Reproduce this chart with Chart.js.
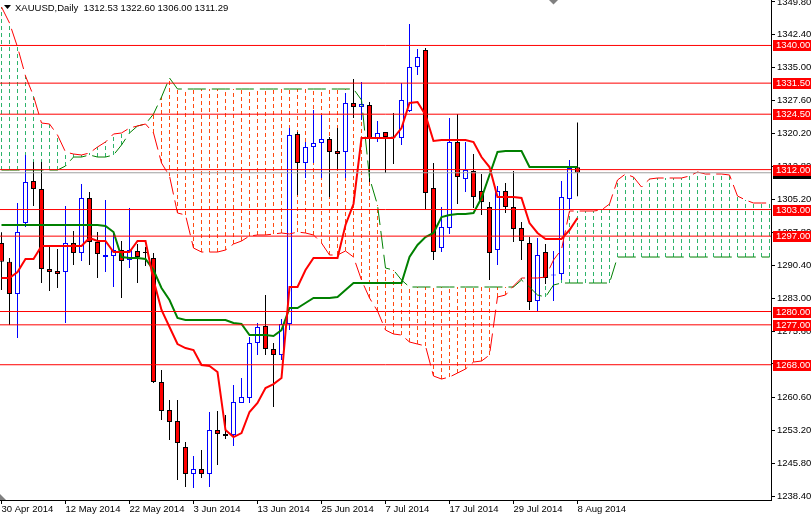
<!DOCTYPE html>
<html>
<head>
<meta charset="utf-8">
<script src="https://cdn.jsdelivr.net/npm/chart.js@4/dist/chart.umd.min.js"></script>
<style>
  html, body { margin: 0; padding: 0; background: #fff; }
  canvas { display: block; }
</style>
</head>
<body>
<canvas id="chart" width="811" height="517"></canvas>
<script>
// XAUUSD daily, 30 Apr - 8 Aug 2014, Ichimoku
const tickDates = ['30 Apr 2014', '12 May 2014', '22 May 2014', '3 Jun 2014', '13 Jun 2014',
  '25 Jun 2014', '7 Jul 2014', '17 Jul 2014', '29 Jul 2014', '8 Aug 2014'];
const tickBars = [0, 8, 16, 24, 32, 40, 48, 56, 64, 72];

const open = [1295.45, 1291.20, 1283.95, 1299.96, 1309.43, 1307.63, 1289.59, 1289.14, 1288.91, 1295.45,
  1293.20, 1305.60, 1295.68, 1292.29, 1292.52, 1293.87, 1291.62, 1293.65, 1293.42, 1292.07,
  1264.11, 1257.79, 1255.31, 1249.45, 1243.36, 1244.49, 1243.36, 1253.28, 1252.38, 1252.15,
  1259.37, 1260.50, 1272.90, 1276.73, 1271.55, 1270.19, 1277.18, 1320.03, 1313.49, 1317.10,
  1318.00, 1318.90, 1316.20, 1315.97, 1327.02, 1326.12, 1326.57, 1319.13, 1320.48, 1319.36,
  1319.13, 1325.22, 1335.14, 1338.97, 1307.85, 1294.32, 1298.83, 1318.23, 1309.88, 1311.69,
  1307.18, 1303.57, 1293.87, 1307.18, 1303.57, 1298.83, 1295.45, 1282.37, 1293.42, 1288.12,
  1288.46, 1305.38, 1312.53];
const high = [1297.90, 1292.07, 1304.47, 1315.30, 1313.72, 1313.72, 1294.78, 1294.10, 1303.80, 1298.16,
  1308.76, 1306.95, 1297.93, 1305.15, 1297.93, 1295.90, 1303.34, 1295.23, 1294.55, 1293.20,
  1266.81, 1260.05, 1260.05, 1250.58, 1247.42, 1248.77, 1257.34, 1257.57, 1256.66, 1263.43,
  1265.01, 1274.25, 1277.41, 1283.73, 1272.90, 1278.31, 1321.38, 1320.48, 1318.23, 1325.44,
  1324.32, 1319.36, 1321.38, 1329.28, 1332.44, 1331.76, 1327.25, 1322.96, 1320.48, 1324.77,
  1331.53, 1344.84, 1339.20, 1339.43, 1313.49, 1303.57, 1323.64, 1324.54, 1318.23, 1315.52,
  1311.01, 1304.70, 1308.31, 1308.98, 1311.69, 1300.19, 1296.80, 1296.58, 1295.23, 1293.65,
  1309.43, 1314.17, 1322.60];
const low = [1284.85, 1276.96, 1274.03, 1299.06, 1303.80, 1286.43, 1284.63, 1285.30, 1277.41, 1290.49,
  1291.39, 1290.49, 1287.56, 1288.91, 1285.53, 1283.05, 1289.81, 1286.43, 1290.27, 1263.88,
  1255.54, 1251.03, 1242.01, 1240.43, 1240.20, 1242.46, 1240.43, 1245.39, 1251.25, 1249.67,
  1259.37, 1259.37, 1270.19, 1270.19, 1258.47, 1269.07, 1275.83, 1306.27, 1310.11, 1313.49,
  1310.11, 1305.83, 1311.91, 1310.11, 1323.64, 1323.19, 1309.21, 1318.23, 1311.24, 1313.27,
  1317.55, 1324.99, 1333.34, 1302.89, 1291.62, 1293.42, 1297.48, 1304.25, 1306.95, 1303.34,
  1301.77, 1287.11, 1290.49, 1302.22, 1295.68, 1291.62, 1280.34, 1279.89, 1286.20, 1282.37,
  1287.11, 1302.89, 1306.00];
const close = [1291.20, 1283.95, 1297.93, 1309.21, 1307.63, 1289.59, 1288.91, 1288.46, 1295.45, 1293.20,
  1305.60, 1295.68, 1292.97, 1292.75, 1293.87, 1291.39, 1293.87, 1292.29, 1293.20, 1264.11,
  1257.57, 1255.09, 1250.35, 1243.36, 1244.49, 1243.36, 1253.28, 1252.38, 1251.93, 1259.60,
  1260.72, 1272.90, 1276.51, 1271.55, 1270.19, 1277.18, 1319.81, 1313.49, 1317.10, 1318.00,
  1318.90, 1315.97, 1315.52, 1327.02, 1326.12, 1326.80, 1319.13, 1320.26, 1319.36, 1319.24,
  1327.70, 1335.14, 1337.40, 1306.73, 1293.42, 1299.06, 1318.23, 1310.33, 1311.91, 1305.83,
  1304.70, 1293.20, 1307.18, 1303.57, 1298.61, 1295.90, 1282.15, 1292.75, 1287.56, 1288.35,
  1305.83, 1312.36, 1311.29];

const tenkan = [1287.56, 1287.56, 1288.91, 1291.84, 1291.84, 1294.77, 1294.77, 1294.77, 1294.77, 1294.77,
  1294.77, 1296.58, 1295.90, 1295.90, 1293.42, 1293.42, 1293.42, 1295.90, 1295.90, 1287.11,
  1280.34, 1276.51, 1272.67, 1271.77, 1271.32, 1267.94, 1267.71, 1266.36, 1253.28, 1251.70,
  1252.60, 1257.34, 1259.37, 1262.75, 1263.65, 1265.01, 1285.53, 1285.53, 1289.36, 1292.07,
  1292.07, 1292.07, 1292.07, 1299.51, 1304.25, 1319.13, 1319.13, 1319.13, 1319.13, 1319.13,
  1321.38, 1327.02, 1327.25, 1324.32, 1318.45, 1318.68, 1318.68, 1318.68, 1318.68, 1318.23,
  1314.84, 1312.59, 1305.82, 1305.82, 1305.82, 1305.60, 1299.96, 1297.71, 1296.35, 1296.35,
  1296.35, 1298.38, 1301.09];
const kijun = [1299.51, 1299.51, 1299.51, 1299.51, 1299.51, 1299.51, 1299.51, 1299.51, 1299.51, 1299.51,
  1299.51, 1299.51, 1299.51, 1299.29, 1297.93, 1292.29, 1292.07, 1292.07, 1291.84, 1289.36,
  1285.30, 1282.60, 1278.54, 1278.09, 1278.09, 1278.09, 1278.09, 1278.09, 1278.09, 1277.41,
  1277.18, 1274.70, 1274.70, 1274.70, 1274.48, 1275.83, 1280.79, 1280.79, 1281.92, 1283.05,
  1283.05, 1283.05, 1283.27, 1284.85, 1286.43, 1286.43, 1286.43, 1286.43, 1286.43, 1286.43,
  1286.43, 1292.29, 1295.00, 1296.80, 1297.71, 1301.31, 1301.77, 1301.99, 1301.99, 1302.22,
  1305.60, 1310.79, 1315.97, 1316.20, 1316.20, 1316.20, 1312.59, 1312.59, 1312.59, 1312.59,
  1312.59, 1312.59, 1312.59];
// cloud spans, shifted 26 bars ahead (97 points)
const spanA = [1348.67, 1345.06, 1339.65, 1333.11, 1328.60, 1322.51, 1322.29, 1319.81, 1315.97, 1315.52,
  1315.30, 1315.75, 1317.10, 1318.23, 1320.03, 1320.26, 1321.38, 1321.84, 1322.29, 1320.26,
  1313.49, 1310.56, 1302.22, 1301.77, 1294.32, 1293.42, 1293.42, 1293.42, 1293.87, 1295.23,
  1295.90, 1297.03, 1297.26, 1297.26, 1297.48, 1297.71, 1297.48, 1297.93, 1297.71, 1297.26,
  1295.45, 1292.75, 1292.75, 1293.65, 1292.29, 1287.11, 1283.05, 1280.12, 1275.83, 1274.93,
  1274.70, 1273.13, 1272.67, 1272.22, 1265.46, 1264.78, 1265.23, 1266.13, 1267.04, 1268.61,
  1268.84, 1270.19, 1283.27, 1283.73, 1285.75, 1287.56, 1287.56, 1287.56, 1287.78, 1291.62,
  1294.00, 1302.67, 1302.67, 1302.67, 1302.67, 1302.89, 1304.25, 1309.66, 1311.01, 1310.33,
  1308.08, 1309.88, 1310.11, 1310.11, 1310.11, 1310.11, 1310.56, 1311.46, 1311.01, 1311.01,
  1311.01, 1310.79, 1306.05, 1305.15, 1304.47, 1304.47, 1304.47];
const spanB = [1311.91, 1311.91, 1311.91, 1311.91, 1311.91, 1311.91, 1311.91, 1311.91, 1312.81, 1314.84,
  1314.84, 1315.30, 1314.84, 1314.84, 1315.30, 1317.55, 1320.26, 1321.84, 1322.29, 1324.54,
  1328.38, 1332.66, 1330.18, 1330.18, 1330.18, 1330.18, 1330.18, 1330.18, 1330.18, 1330.18,
  1330.18, 1330.18, 1330.18, 1330.18, 1330.18, 1330.18, 1330.18, 1330.18, 1330.18, 1330.18,
  1330.18, 1330.18, 1330.18, 1330.18, 1330.18, 1327.70, 1310.11, 1304.02, 1289.81, 1289.36,
  1287.11, 1285.53, 1285.53, 1285.53, 1285.53, 1285.53, 1285.53, 1285.53, 1285.53, 1285.53,
  1285.53, 1285.53, 1285.53, 1285.53, 1285.53, 1287.11, 1285.53, 1283.73, 1283.27, 1285.98,
  1286.43, 1286.43, 1286.43, 1286.43, 1286.43, 1286.43, 1286.43, 1292.29, 1292.29, 1292.29,
  1292.29, 1292.29, 1292.29, 1292.29, 1292.29, 1292.29, 1292.29, 1292.29, 1292.29, 1292.29,
  1292.29, 1292.29, 1292.29, 1292.29, 1292.29, 1292.29, 1292.29];

const levels = [1340, 1331.5, 1324.5, 1312, 1303, 1297, 1280, 1277, 1268];
const yTicks = [1349.8, 1342.4, 1335.0, 1327.6, 1320.2, 1312.8, 1305.2, 1297.8, 1290.4,
  1283.0, 1275.6, 1268.2, 1260.6, 1253.2, 1245.8, 1238.4];

const FONT = '"Liberation Sans", Arial, sans-serif';
const FSIZE = 9.5;

const bars = open.map((_, i) => i);
const bull = bars.filter(i => close[i] >= open[i]);
const bear = bars.filter(i => close[i] < open[i]);
const pts = arr => arr.map((v, i) => ({ x: i, y: v }));
const hline = v => [{ x: -1, y: v }, { x: 200, y: v }];

// vertical dashed strokes between the spans, one per bar, broken by nulls
function hatch(aboveB) {
  const d = [];
  spanA.forEach((a, i) => {
    const b = spanB[i];
    if (aboveB ? a > b : a < b) {
      d.push({ x: i, y: Math.min(a, b) }, { x: i, y: Math.max(a, b) }, { x: i, y: null });
    }
  });
  return d;
}

const barBase = { type: 'bar', grouped: false, inflateAmount: 0, borderSkipped: false, clip: 0 };
const lineBase = { type: 'line', pointRadius: 0, tension: 0, fill: false, clip: 0, spanGaps: false };

const datasets = [
  { ...lineBase, order: 0, data: hline(close[close.length - 1]), borderColor: '#a0a0a0', borderWidth: 1 },
  ...levels.map(v => ({ ...lineBase, order: 1, data: hline(v), borderColor: '#ff0000', borderWidth: 1 })),
  { ...lineBase, order: 2, data: pts(tenkan), borderColor: '#ff0000', borderWidth: 2 },
  { ...lineBase, order: 3, data: pts(kijun), borderColor: '#008000', borderWidth: 2 },
  { ...lineBase, order: 4, data: pts(spanA), borderColor: '#ff0000', borderWidth: 1, borderDash: [18, 6] },
  { ...lineBase, order: 5, data: pts(spanB), borderColor: '#008000', borderWidth: 1, borderDash: [18, 6] },
  { ...barBase, order: 6, barThickness: 5, minBarLength: 1, borderWidth: 1,
    data: bull.map(i => ({ x: i, y: [open[i], close[i]] })), backgroundColor: '#ffffff', borderColor: '#0000ff' },
  { ...barBase, order: 6, barThickness: 5, minBarLength: 1, borderWidth: 1,
    data: bear.map(i => ({ x: i, y: [open[i], close[i]] })), backgroundColor: '#ff0000', borderColor: '#000000' },
  { ...barBase, order: 7, barThickness: 1, borderWidth: 0,
    data: bull.map(i => ({ x: i, y: [low[i], high[i]] })), backgroundColor: '#0000ff' },
  { ...barBase, order: 7, barThickness: 1, borderWidth: 0,
    data: bear.map(i => ({ x: i, y: [low[i], high[i]] })), backgroundColor: '#000000' },
  { ...lineBase, order: 8, data: hatch(true), borderColor: '#2db36b', borderWidth: 1, borderDash: [4, 3] },
  { ...lineBase, order: 8, data: hatch(false), borderColor: '#ff4a10', borderWidth: 1, borderDash: [4, 3] }
];

const overlay = {
  id: 'overlay',
  afterDraw(chart) {
    const c = chart.ctx;
    const y = chart.scales.y;
    c.save();
    c.font = FSIZE + 'px ' + FONT;
    c.textBaseline = 'middle';
    const tag = (v, bg) => {
      const py = Math.round(y.getPixelForValue(v));
      c.fillStyle = bg;
      c.fillRect(773, py - 5, 38, 11);
      c.fillStyle = '#ffffff';
      c.fillText(v.toFixed(2), 776, py + 0.5);
    };
    tag(close[close.length - 1], '#000000');
    levels.forEach(v => tag(v, '#ff0000'));

    const n = open.length - 1;
    c.fillStyle = '#000000';
    c.beginPath(); c.moveTo(4, 5); c.lineTo(11, 5); c.lineTo(7.5, 9); c.closePath(); c.fill();
    c.fillText('XAUUSD,Daily  ' + [open[n], high[n], low[n], close[n]].map(v => v.toFixed(2)).join(' '), 15, 8);

    c.fillStyle = '#808080';
    c.beginPath(); c.moveTo(549, 0); c.lineTo(558, 0); c.lineTo(553.5, 4.5); c.closePath(); c.fill();
    c.beginPath(); c.moveTo(0, 494); c.lineTo(6, 500); c.lineTo(0, 500); c.closePath(); c.fill();
    c.restore();
  }
};

new Chart(document.getElementById('chart'), {
  type: 'bar',
  data: { datasets },
  plugins: [overlay],
  options: {
    responsive: false,
    animation: false,
    events: [],
    layout: { padding: 0 },
    plugins: { legend: { display: false }, tooltip: { enabled: false } },
    scales: {
      x: {
        type: 'linear',
        min: -0.1875,
        max: 96.1875,
        offset: false,
        grid: { display: true, drawOnChartArea: false, tickLength: 4, color: '#000000', offset: false },
        border: { display: true, color: '#000000' },
        ticks: {
          autoSkip: false, maxRotation: 0, align: 'start', padding: 0, color: '#000000',
          font: { family: FONT, size: FSIZE },
          callback: (v, i) => tickDates[i]
        },
        afterBuildTicks: s => { s.ticks = tickBars.map(v => ({ value: v })); },
        afterFit: s => { s.height = 17; s.paddingLeft = 0; s.paddingRight = 0; }
      },
      y: {
        position: 'right',
        min: 1237.5,
        max: 1350.25,
        grid: { display: true, drawOnChartArea: false, tickLength: 4, color: '#000000' },
        border: { display: true, color: '#000000' },
        ticks: {
          autoSkip: false, padding: 2, color: '#000000',
          font: { family: FONT, size: FSIZE },
          callback: v => v.toFixed(2)
        },
        afterBuildTicks: s => { s.ticks = yTicks.map(v => ({ value: v })); },
        afterFit: s => { s.width = 40; s.paddingTop = 0; s.paddingBottom = 0; }
      }
    }
  }
});
</script>
</body>
</html>
